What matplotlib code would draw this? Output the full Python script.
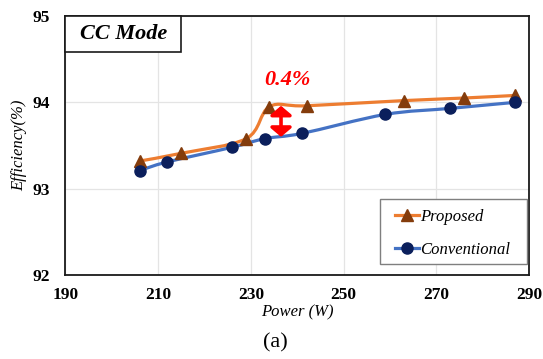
import matplotlib
matplotlib.use("Agg")
import matplotlib.pyplot as plt
from matplotlib.path import Path
from matplotlib.patches import PathPatch, Rectangle
from matplotlib.lines import Line2D
import numpy as np

# Measured efficiency versus output power
proposed_power = [206, 215, 229, 234, 242, 263, 276, 287]
proposed_eff = [93.32, 93.41, 93.58, 93.95, 93.96, 94.02, 94.05, 94.08]
conventional_power = [206, 212, 226, 233, 241, 259, 273, 287]
conventional_eff = [93.21, 93.31, 93.48, 93.58, 93.64, 93.86, 93.93, 94.00]

x_ticks = [190, 210, 230, 250, 270, 290]
y_ticks = [92, 93, 94, 95]
series_names = ["Proposed", "Conventional"]
gap_label = "0.4%"

SERIF = ["Liberation Serif", "DejaVu Serif"]
plt.rcParams["font.family"] = SERIF


def smooth_path(xs, ys):
    """Catmull-Rom curve through the points, expressed as cubic Bezier segments."""
    pts = np.column_stack([xs, ys]).astype(float)
    ext = np.vstack([pts[0], pts, pts[-1]])
    verts = [tuple(pts[0])]
    codes = [Path.MOVETO]
    for i in range(1, len(ext) - 2):
        p0, p1, p2, p3 = ext[i - 1], ext[i], ext[i + 1], ext[i + 2]
        c1 = p1 + (p2 - p0) / 6.0
        c2 = p2 - (p3 - p1) / 6.0
        verts += [tuple(c1), tuple(c2), tuple(p2)]
        codes += [Path.CURVE4] * 3
    return Path(verts, codes)


fig = plt.figure(figsize=(5.43, 3.59), dpi=100)
ax = fig.add_axes([0.1206, 0.2340, 0.8536, 0.7214])

ORANGE = "#ED7D31"
BROWN = "#843C0C"
BLUE = "#4472C4"
NAVY = "#0B1F5C"

ax.add_patch(PathPatch(smooth_path(proposed_power, proposed_eff), fill=False,
                       edgecolor=ORANGE, lw=2.3, zorder=3, capstyle="round"))
ax.add_patch(PathPatch(smooth_path(conventional_power, conventional_eff), fill=False,
                       edgecolor=BLUE, lw=2.3, zorder=3, capstyle="round"))
ax.plot(proposed_power, proposed_eff, ls="none", marker="^", ms=8.5,
        mfc=BROWN, mec=BROWN, zorder=4)
ax.plot(conventional_power, conventional_eff, ls="none", marker="o", ms=8,
        mfc=NAVY, mec=NAVY, zorder=4)

ax.set_xlim(190, 290)
ax.set_ylim(92, 95)
ax.set_xticks(x_ticks)
ax.set_yticks(y_ticks)
ax.set_xticklabels([str(t) for t in x_ticks], fontsize=12.5, fontweight="bold")
ax.set_yticklabels([str(t) for t in y_ticks], fontsize=12.5, fontweight="bold")
ax.tick_params(axis="both", length=0)
ax.tick_params(axis="x", pad=9)
ax.tick_params(axis="y", pad=11)
ax.grid(True, color="#E4E4E4", lw=0.9, zorder=0)
ax.set_axisbelow(True)
for s in ax.spines.values():
    s.set_color("#1A1A1A")
    s.set_linewidth(1.3)

ax.set_xlabel("Power (W)", fontsize=12, fontstyle="italic", labelpad=1)
ax.set_ylabel("Efficiency(%)", fontsize=12, fontstyle="italic", labelpad=4)

# Mode tag in the top-left corner
ax.add_patch(Rectangle((0, 0.862), 0.249, 0.138, transform=ax.transAxes,
                       facecolor="white", edgecolor="#1A1A1A", lw=1.2,
                       zorder=5, clip_on=False))
ax.text(0.1246, 0.931, "CC Mode", transform=ax.transAxes, ha="center",
        va="center", fontsize=16, fontweight="bold", fontstyle="italic", zorder=6)

# Efficiency gap marker
ax.annotate("", xy=(236.5, 93.60), xytext=(236.5, 93.96),
            arrowprops=dict(arrowstyle="<|-|>,head_length=0.27,head_width=0.32",
                            color="#FF0000", lw=2.6, mutation_scale=20,
                            shrinkA=0, shrinkB=0), zorder=6)
ax.text(237.8, 94.26, gap_label, color="#FF0000", fontsize=16, fontweight="bold",
        fontstyle="italic", ha="center", va="center")

# Legend: framed box with the entries placed inside
ax.add_patch(Rectangle((0.6786, 0.0423), 0.317, 0.25, transform=ax.transAxes,
                       facecolor="white", edgecolor="#7F7F7F", lw=1.0, zorder=5))
handles = [
    Line2D([], [], color=ORANGE, lw=2.3, marker="^", ms=8.5, mfc=BROWN, mec=BROWN),
    Line2D([], [], color=BLUE, lw=2.3, marker="o", ms=8, mfc=NAVY, mec=NAVY),
]
leg = ax.legend(handles, series_names, loc="upper left",
                bbox_to_anchor=(0.71, 0.254), borderaxespad=0, borderpad=0,
                prop=dict(family=SERIF, style="italic", size=12),
                frameon=False, handlelength=1.45,
                handletextpad=0.1, labelspacing=1.0)
leg.set_zorder(6)

fig.text(0.508, 0.045, "(a)", ha="center", va="center", fontsize=16)

fig.savefig("out.png", dpi=100, facecolor="white")
